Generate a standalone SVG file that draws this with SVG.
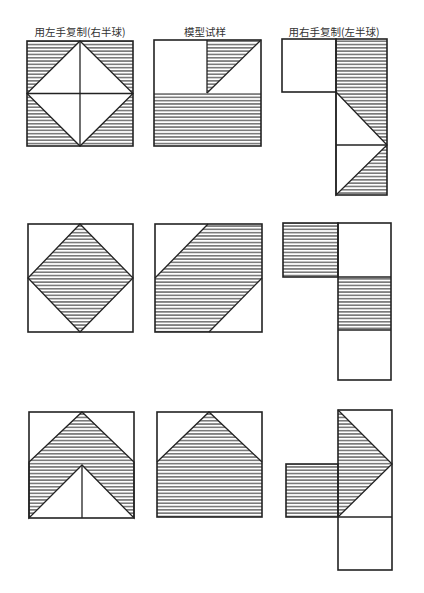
<svg xmlns="http://www.w3.org/2000/svg" width="424" height="593" viewBox="0 0 424 593">
<defs>
<pattern id="h" patternUnits="userSpaceOnUse" width="8" height="3.3">
<rect x="0" y="1.1" width="8" height="1.1" fill="#3a3a3a"/>
</pattern>
<style>
.o{fill:none;stroke:#222;stroke-width:1.6}
.l{fill:none;stroke:#222;stroke-width:1.3}
.hf{fill:url(#h);stroke:none}
.t{font-family:"Noto Sans CJK SC","Noto Sans",sans-serif;font-size:10.5px;fill:#333}
</style>
</defs>
<rect width="424" height="593" fill="#fff"/>
<g id="headers">
<text class="t" x="80" y="36" text-anchor="middle">用左手复制(右半球)</text>
<text class="t" x="205" y="36" text-anchor="middle">模型试样</text>
<text class="t" x="334" y="36" text-anchor="middle">用右手复制(左半球)</text>
</g>
<g id="p1">
<rect class="hf" x="27" y="41" width="106" height="105"/>
<polygon points="80,41 133,93.5 80,146 27,93.5" fill="#fff"/>
<polygon class="l" points="80,41 133,93.5 80,146 27,93.5"/>
<line class="l" x1="80" y1="41" x2="80" y2="146"/>
<line class="l" x1="27" y1="93.5" x2="133" y2="93.5"/>
<rect class="o" x="27" y="41" width="106" height="105"/>
</g>
<g id="p2">
<rect class="hf" x="154" y="93" width="107" height="53"/>
<polygon class="hf" points="207,40 261,40 207,93"/>
<line class="l" x1="261" y1="40" x2="207" y2="93"/>
<line class="l" x1="207" y1="40" x2="207" y2="93"/>
<rect class="o" x="154" y="40" width="107" height="106"/>
</g>
<g id="p3">
<polygon class="hf" points="336,39 387,39 387,195 336,195 336,195 387,145 336,92"/>
<polygon class="l" points="336,92 387,145 336,195"/>
<line class="l" x1="336" y1="145" x2="387" y2="145"/>
<rect class="o" x="282" y="39" width="54" height="53"/>
<rect class="o" x="336" y="39" width="51" height="156"/>
</g>
<g id="p4">
<polygon class="hf" points="80,224 133,278 80,332 28,278"/>
<polygon class="l" points="80,224 133,278 80,332 28,278"/>
<rect class="o" x="28" y="224" width="105" height="108"/>
</g>
<g id="p5">
<polygon class="hf" points="208,224 262,224 262,278 209,332 155,332 155,278"/>
<line class="l" x1="208" y1="224" x2="155" y2="278"/>
<line class="l" x1="262" y1="278" x2="209" y2="332"/>
<rect class="o" x="155" y="224" width="107" height="108"/>
</g>
<g id="p6">
<rect class="hf" x="283" y="223" width="55" height="54"/>
<rect class="hf" x="338" y="277" width="53" height="53"/>
<rect class="o" x="283" y="223" width="55" height="54"/>
<rect class="o" x="338" y="223" width="53" height="157"/>
<line class="l" x1="338" y1="277" x2="391" y2="277"/>
<line class="l" x1="338" y1="330" x2="391" y2="330"/>
</g>
<g id="p7">
<polygon class="hf" points="82,412 134,462 134,518 82,465 29,518 29,462"/>
<polygon class="l" points="82,412 134,462 134,518 82,465 29,518 29,462"/>
<line class="l" x1="82" y1="465" x2="82" y2="518"/>
<rect class="o" x="29" y="412" width="105" height="106"/>
</g>
<g id="p8">
<polygon class="hf" points="209,412 262,462 262,517 157,517 157,462"/>
<polyline class="l" points="157,462 209,412 262,462"/>
<rect class="o" x="157" y="412" width="105" height="105"/>
</g>
<g id="p9">
<rect class="hf" x="286" y="464" width="52" height="53"/>
<polygon class="hf" points="338,410 392,464 338,517"/>
<polyline class="l" points="338,410 392,464 338,517"/>
<rect class="o" x="286" y="464" width="52" height="53"/>
<rect class="o" x="338" y="410" width="54" height="160"/>
<line class="l" x1="338" y1="517" x2="392" y2="517"/>
</g>
</svg>
